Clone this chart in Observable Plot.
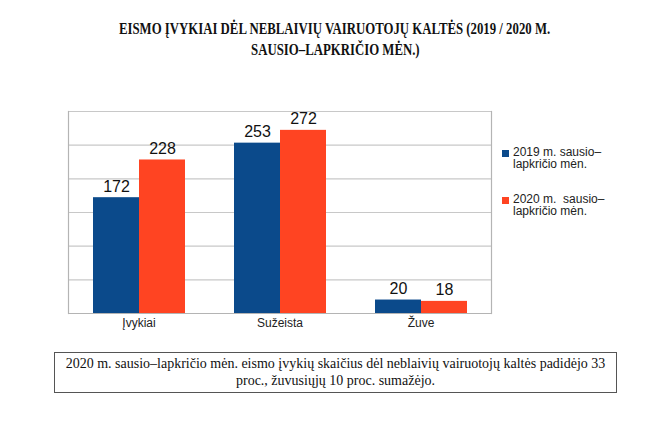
<!DOCTYPE html>
<html>
<head>
<meta charset="utf-8">
<script src="https://cdn.jsdelivr.net/npm/d3@7"></script>
<script src="https://cdn.jsdelivr.net/npm/@observablehq/plot@0.6"></script>
<style>
  html, body { margin: 0; padding: 0; background: #fff; }
  #wrap { position: relative; width: 670px; height: 447px; overflow: hidden; }
  #title { position: absolute; left: 0; top: 18px; width: 670px; text-align: center;
           font-family: "Liberation Serif", "Times New Roman", serif; font-weight: bold;
           font-size: 16px; line-height: 21px; color: #111; }
  #title span { display: inline-block; transform: scaleX(0.8); transform-origin: center; white-space: nowrap; }
  #chart { position: absolute; left: 0; top: 90px; }
  #legend { position: absolute; left: 502px; top: 147px; font-family: "Liberation Sans", Arial, sans-serif;
            font-size: 12px; line-height: 11.5px; color: #222; }
  .item { display: flex; align-items: flex-start; margin-bottom: 24px; }
  .sw { width: 7px; height: 7px; margin-top: 3px; margin-right: 4px; flex: none; }
  .lab { white-space: pre; }
  #caption { position: absolute; left: 54px; top: 352px; width: 561px; height: 37px;
             border: 1.5px solid #555; font-family: "Liberation Serif", "Times New Roman", serif;
             font-size: 14px; line-height: 17px; text-align: center; color: #111; padding-top: 2px; }
</style>
</head>
<body>
<div id="wrap">
  <div id="title"><span>EISMO ĮVYKIAI DĖL NEBLAIVIŲ VAIRUOTOJŲ KALTĖS (2019 / 2020 M.</span><br><span>SAUSIO–LAPKRIČIO MĖN.)</span></div>
  <div id="chart"></div>
  <div id="legend"></div>
  <div id="caption">2020 m. sausio–lapkričio mėn. eismo įvykių skaičius dėl neblaivių vairuotojų kaltės padidėjo 33<br>proc., žuvusiųjų 10 proc. sumažėjo.</div>
</div>
<script>
const categories = ["Įvykiai", "Sužeista", "Žuve"];
const seriesKeys = ["2019", "2020"];
const seriesLabels = ["2019 m. sausio–\nlapkričio mėn.", "2020 m.  sausio–\nlapkričio mėn."];
const values2019 = [172, 253, 20];
const values2020 = [228, 272, 18];
const colors = ["#0b4a8b", "#ff4422"];
const gridTicks = [50, 100, 150, 200, 250, 300];

const rows = [];
categories.forEach((c, i) => {
  rows.push({cat: c, series: seriesKeys[0], value: values2019[i]});
  rows.push({cat: c, series: seriesKeys[1], value: values2020[i]});
});

const chart = Plot.plot({
  width: 670,
  height: 250,
  marginLeft: 67,
  marginRight: 178,
  marginTop: 21,
  marginBottom: 27,
  style: {fontFamily: "'Liberation Sans', Arial, sans-serif", fontSize: "12px", color: "#222", background: "transparent"},
  fx: {domain: categories, padding: 0, label: null, axis: "bottom", tickSize: 0, tickPadding: 5},
  x: {domain: seriesKeys, paddingInner: 0, paddingOuter: 0.52, axis: null},
  y: {domain: [0, 300], axis: null},
  color: {domain: seriesKeys, range: colors},
  marks: [
    Plot.ruleY(gridTicks, {stroke: "#c8c8c8", strokeWidth: 1.2, strokeOpacity: 1}),
    Plot.barY(rows, {fx: "cat", x: "series", y: "value", fill: "series"}),
    Plot.ruleY([0], {stroke: "#b4b4b4", strokeWidth: 1.2}),
    Plot.text(rows, {fx: "cat", x: "series", y: "value", text: d => String(d.value), dy: -6, lineAnchor: "bottom", fontSize: 16, fill: "#111"}),
    Plot.frame({anchor: "left", facetAnchor: "left", stroke: "#b4b4b4", strokeWidth: 1.2}),
    Plot.frame({anchor: "right", facetAnchor: "right", stroke: "#b4b4b4", strokeWidth: 1.2})
  ]
});
document.getElementById("chart").appendChild(chart);

const legend = document.getElementById("legend");
seriesKeys.forEach((k, i) => {
  const it = document.createElement("div");
  it.className = "item";
  const sw = document.createElement("div");
  sw.className = "sw";
  sw.style.background = colors[i];
  const lab = document.createElement("div");
  lab.className = "lab";
  lab.textContent = seriesLabels[i];
  it.appendChild(sw);
  it.appendChild(lab);
  legend.appendChild(it);
});
</script>
</body>
</html>
